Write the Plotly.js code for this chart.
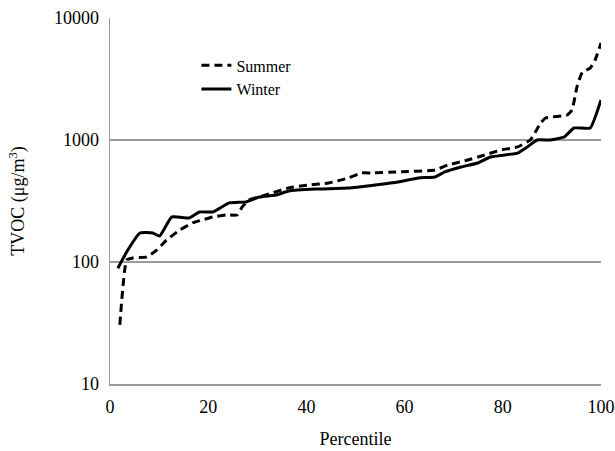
<!DOCTYPE html>
<html>
<head>
<meta charset="utf-8">
<script src="https://cdn.plot.ly/plotly-3.0.1.min.js"></script>
<style>html,body{margin:0;padding:0;background:#fff}#chart{width:615px;height:451px}</style>
</head>
<body>
<div id="chart"></div>
<script>
const summerPct = [2.0, 3.4, 4.7, 7.5, 9.5, 11.5, 14.2, 16.8, 18.8, 20.9, 23.7, 25.9, 26.9, 28.3, 30.4, 33, 36.4, 40.5, 44.5, 48.6, 51.2, 53.2, 58.7, 66.2, 68.8, 72.9, 76.3, 79.6, 83, 85.6, 87.7, 88.7, 93.1, 94.1, 95.1, 96.2, 97.8, 98.8, 100];
const summerVal = [30.5, 104, 108, 110, 125, 151, 183, 209, 221, 234, 243, 243, 282, 322, 341, 368, 405, 428, 444, 489, 537, 537, 547, 568, 624, 685, 753, 828, 877, 1000, 1377, 1514, 1603, 1762, 2719, 3606, 3890, 4526, 6240];
const winterPct = [1.6, 3.6, 6.1, 8.7, 10.1, 12.6, 16.2, 18.2, 20.9, 24.3, 27.7, 30.4, 33.8, 36.4, 41.9, 48.6, 54.0, 58.7, 62.8, 66.2, 68.2, 71.5, 74.9, 77.5, 83, 85, 87, 89.7, 92.5, 94.5, 97.8, 100];
const winterVal = [89, 125, 173, 173, 163, 234, 230, 257, 257, 305, 311, 341, 354, 382, 396, 404, 428, 453, 489, 498, 547, 601, 648, 726, 781, 877, 1000, 1000, 1058, 1254, 1254, 2128];
const xTicks = [0, 20, 40, 60, 80, 100];
const yTicks = [10, 100, 1000, 10000];

const fam = 'Liberation Serif, Times New Roman, serif';
const font = {family: fam, color: '#000000', size: 18};

const data = [
  {x: summerPct, y: summerVal, name: 'Summer', mode: 'lines', type: 'scatter',
   line: {color: '#000', width: 3, dash: '8px,5px', shape: 'spline', smoothing: 0.4}},
  {x: winterPct, y: winterVal, name: 'Winter', mode: 'lines', type: 'scatter',
   line: {color: '#000', width: 3, shape: 'spline', smoothing: 0.4}}
];

const layout = {
  width: 615, height: 451,
  margin: {l: 110, r: 14, t: 18, b: 67},
  paper_bgcolor: '#fff', plot_bgcolor: '#fff',
  font: font,
  showlegend: true,
  legend: {x: 0.176, y: 0.917, xanchor: 'left', yanchor: 'top', bgcolor: 'rgba(0,0,0,0)',
           font: {family: fam, size: 16, color: '#000000'}, tracegroupgap: 0},
  xaxis: {range: [0, 100], tickvals: xTicks, ticktext: xTicks.map(String), showgrid: false,
          zeroline: false, showline: true, linecolor: '#9a9a9a', linewidth: 1.5, ticks: '',
          ticklabelstandoff: 6, ticklabeloverflow: 'allow', tickfont: font, automargin: false,
          title: {text: 'Percentile', font: font, standoff: 16}},
  yaxis: {type: 'log', range: [1, 4], tickvals: yTicks, ticktext: yTicks.map(String),
          showgrid: true, gridcolor: '#9a9a9a', gridwidth: 1.5, zeroline: false,
          showline: true, linecolor: '#9a9a9a', linewidth: 1.5, ticks: '',
          ticklabelstandoff: 6, tickfont: font, automargin: false,
          title: {text: 'TVOC (μg/m<sup>3</sup>)', font: font, standoff: 24}}
};

Plotly.newPlot('chart', data, layout, {displayModeBar: false, staticPlot: true});
</script>
</body>
</html>
